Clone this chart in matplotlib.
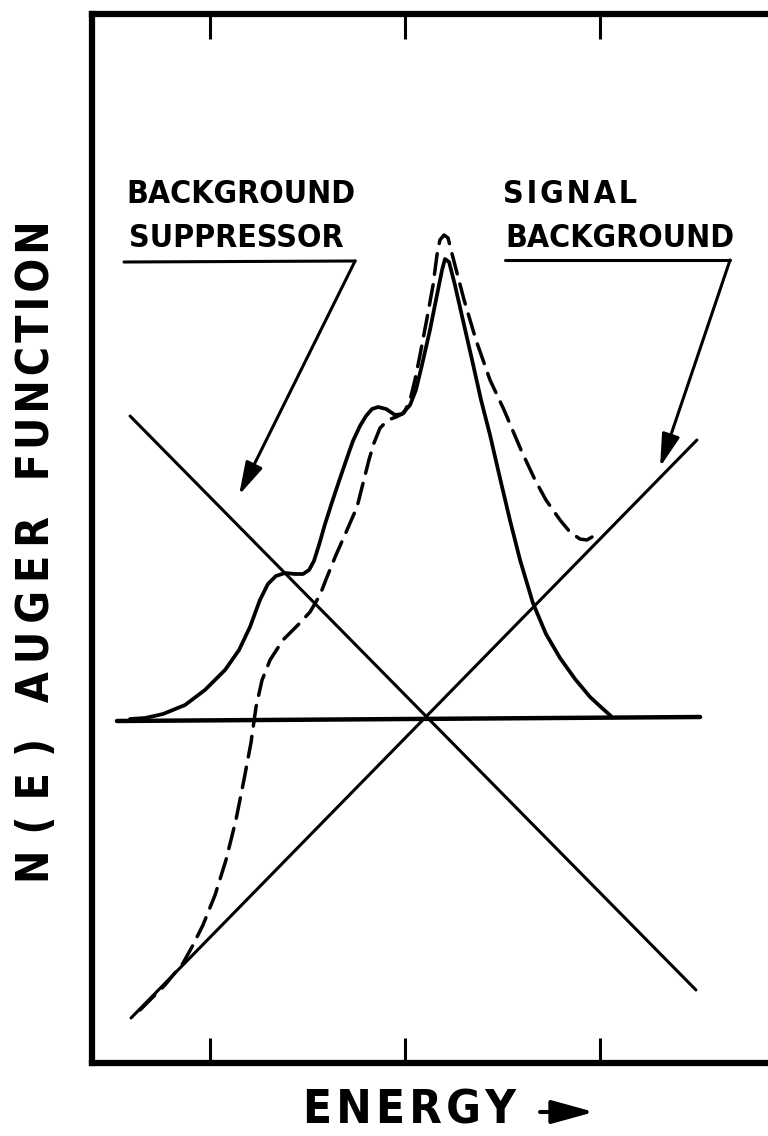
import matplotlib
matplotlib.use("Agg")
import matplotlib.pyplot as plt
from matplotlib.patches import FancyArrowPatch

# ---- data (energy in arbitrary units, N(E) relative to the zero line) ----
energy_ticks = [1.0, 2.0, 3.0]

# undistorted N(E) curve (solid)
energy_solid = [0.590, 0.667, 0.759, 0.872, 0.974, 1.077, 1.149, 1.205, 1.256,
                1.297, 1.338, 1.385, 1.436, 1.477, 1.508, 1.533, 1.559, 1.590,
                1.626, 1.662, 1.697, 1.733, 1.769, 1.800, 1.831, 1.862, 1.903,
                1.949, 1.985, 2.026, 2.056, 2.087, 2.128, 2.164, 2.190, 2.205,
                2.226, 2.256, 2.297, 2.344, 2.390, 2.436, 2.487, 2.538, 2.590,
                2.656, 2.723, 2.795, 2.872, 2.949, 3.010, 3.056]
signal_solid = [0.00, 0.01, 0.05, 0.14, 0.29, 0.49, 0.69, 0.92, 1.19,
                1.35, 1.43, 1.46, 1.45, 1.45, 1.49, 1.58, 1.74, 1.95,
                2.17, 2.38, 2.58, 2.78, 2.93, 3.03, 3.10, 3.12, 3.10,
                3.04, 3.05, 3.14, 3.29, 3.54, 3.89, 4.24, 4.49, 4.60,
                4.57, 4.34, 3.99, 3.59, 3.19, 2.84, 2.41, 1.99, 1.59,
                1.16, 0.85, 0.61, 0.40, 0.22, 0.11, 0.03]

# signal riding on the sloping background (dashed)
energy_dashed = [0.641, 0.769, 0.862, 0.913, 0.964, 1.026, 1.082, 1.133, 1.174,
                 1.210, 1.236, 1.267, 1.308, 1.374, 1.451, 1.513, 1.564, 1.600,
                 1.646, 1.687, 1.754, 1.815, 1.841, 1.872, 1.913, 1.954, 1.995,
                 2.026, 2.051, 2.077, 2.113, 2.144, 2.164, 2.179, 2.200, 2.221,
                 2.236, 2.256, 2.303, 2.364, 2.436, 2.508, 2.595, 2.667, 2.723,
                 2.795, 2.846, 2.897, 2.933, 2.959]
signal_dashed = [-2.91, -2.66, -2.44, -2.26, -2.06, -1.76, -1.41, -1.01, -0.61,
                 -0.24, 0.12, 0.39, 0.59, 0.79, 0.94, 1.07, 1.24, 1.42,
                 1.64, 1.82, 2.12, 2.59, 2.76, 2.91, 2.99, 3.02, 3.06,
                 3.19, 3.39, 3.64, 4.01, 4.34, 4.64, 4.79, 4.84, 4.81,
                 4.69, 4.54, 4.19, 3.79, 3.39, 3.09, 2.69, 2.39, 2.19,
                 1.99, 1.87, 1.80, 1.79, 1.82]

# zero line and the two straight backgrounds
baseline_x = [0.523, 3.513]
baseline_y = [-0.02, 0.02]
suppressor_x = [0.590, 3.492]
suppressor_y = [3.03, -2.71]
sig_bg_x = [0.595, 3.497]
sig_bg_y = [-2.99, 2.79]

# callouts: text, underline end points, arrow tip
left_label = ["BACKGROUND", "SUPPRESSOR"]
left_underline_x = [0.559, 1.744]
left_underline_y = [4.57, 4.58]
left_arrow_tip = (1.149, 2.24)

right_label = ["SIGNAL", "BACKGROUND"]
right_underline_x = [2.513, 3.667]
right_underline_y = [4.59, 4.59]
right_arrow_tip = (3.308, 2.52)

x_label = "ENERGY"
y_label_words = ["N(E)", "AUGER", "FUNCTION"]

# ---- figure ----
W, H = 768, 1136
fig = plt.figure(figsize=(W / 100, H / 100), dpi=100)
fig.patch.set_facecolor("white")

ax_left, ax_right = 92, 783
ax_top, ax_bottom = 14, 1063
ax = fig.add_axes([ax_left / W, 1 - ax_bottom / H,
                   (ax_right - ax_left) / W, (ax_bottom - ax_top) / H])
ax.set_xlim((ax_left - 15) / 195, (ax_right - 15) / 195)
ax.set_ylim((719 - ax_bottom) / 100, (719 - ax_top) / 100)

for side in ("left", "top", "bottom"):
    ax.spines[side].set_linewidth(4.5)
    ax.spines[side].set_color("black")
ax.spines["right"].set_visible(False)

ax.set_xticks(energy_ticks)
ax.set_yticks([])
ax.tick_params(axis="x", which="both", direction="in", length=18, width=2.2,
               top=True, bottom=True, labelbottom=False, labeltop=False,
               color="black")

ink = "black"
ax.plot(baseline_x, baseline_y, color=ink, lw=3.2, solid_capstyle="round")
ax.plot(suppressor_x, suppressor_y, color=ink, lw=2.2, solid_capstyle="round")
ax.plot(sig_bg_x, sig_bg_y, color=ink, lw=2.2, solid_capstyle="round")
ax.plot(energy_solid, signal_solid, color=ink, lw=2.7,
        solid_joinstyle="round", solid_capstyle="round")
ax.plot(energy_dashed, signal_dashed, color=ink, lw=2.5,
        linestyle=(0, (6.0, 3.0)), dash_capstyle="round",
        dash_joinstyle="round")


def tracked(word, gap):
    """Spread the letters of a word with a fixed narrow space."""
    return gap.join(word)


HAIR = "\u200a"
THIN = "\u2009"

# callouts
lab_font = dict(family="DejaVu Sans", fontstretch="condensed",
                fontweight="bold", fontsize=23, color=ink)
ax.text(0.569, 5.16, left_label[0], ha="left", va="baseline", **lab_font)
ax.text(0.585, 4.72, left_label[1], ha="left", va="baseline", **lab_font)
ax.text(2.503, 5.16, tracked(right_label[0], HAIR), ha="left", va="baseline",
        **lab_font)
ax.text(2.513, 4.72, right_label[1], ha="left", va="baseline", **lab_font)

ax.plot(left_underline_x, left_underline_y, color=ink, lw=2.2,
        solid_capstyle="round")
ax.plot(right_underline_x, right_underline_y, color=ink, lw=2.2,
        solid_capstyle="round")

arrow_style = "-|>,head_length=20,head_width=5.5"
for start, tip in (((left_underline_x[1], left_underline_y[1]), left_arrow_tip),
                   ((right_underline_x[1], right_underline_y[1]), right_arrow_tip)):
    ax.annotate("", xy=tip, xytext=start,
                arrowprops=dict(arrowstyle=arrow_style, color=ink, lw=2.2,
                                shrinkA=0, shrinkB=0, mutation_scale=1))

# axis titles
title_font = dict(family="DejaVu Sans", fontstretch="condensed",
                  fontweight="bold", color=ink)
y_text = (tracked(y_label_words[0], THIN + THIN)
          + "  " + THIN + tracked(y_label_words[1], THIN)
          + "  " + THIN + tracked(y_label_words[2], HAIR))
fig.text(37 / W, 1 - 552 / H, y_text, rotation=90, ha="center", va="center",
         fontsize=32, **title_font)
fig.text(303 / W, 1 - 1111 / H, tracked(x_label, HAIR), ha="left",
         va="center", fontsize=34, **title_font)

arrow = FancyArrowPatch((540, H - 1112), (594, H - 1112),
                        transform=None,
                        arrowstyle="-|>,head_length=26,head_width=7.2",
                        mutation_scale=1, lw=2.9, color=ink,
                        shrinkA=0, shrinkB=0)
fig.patches.append(arrow)

fig.savefig("out.png", dpi=100, facecolor="white")
